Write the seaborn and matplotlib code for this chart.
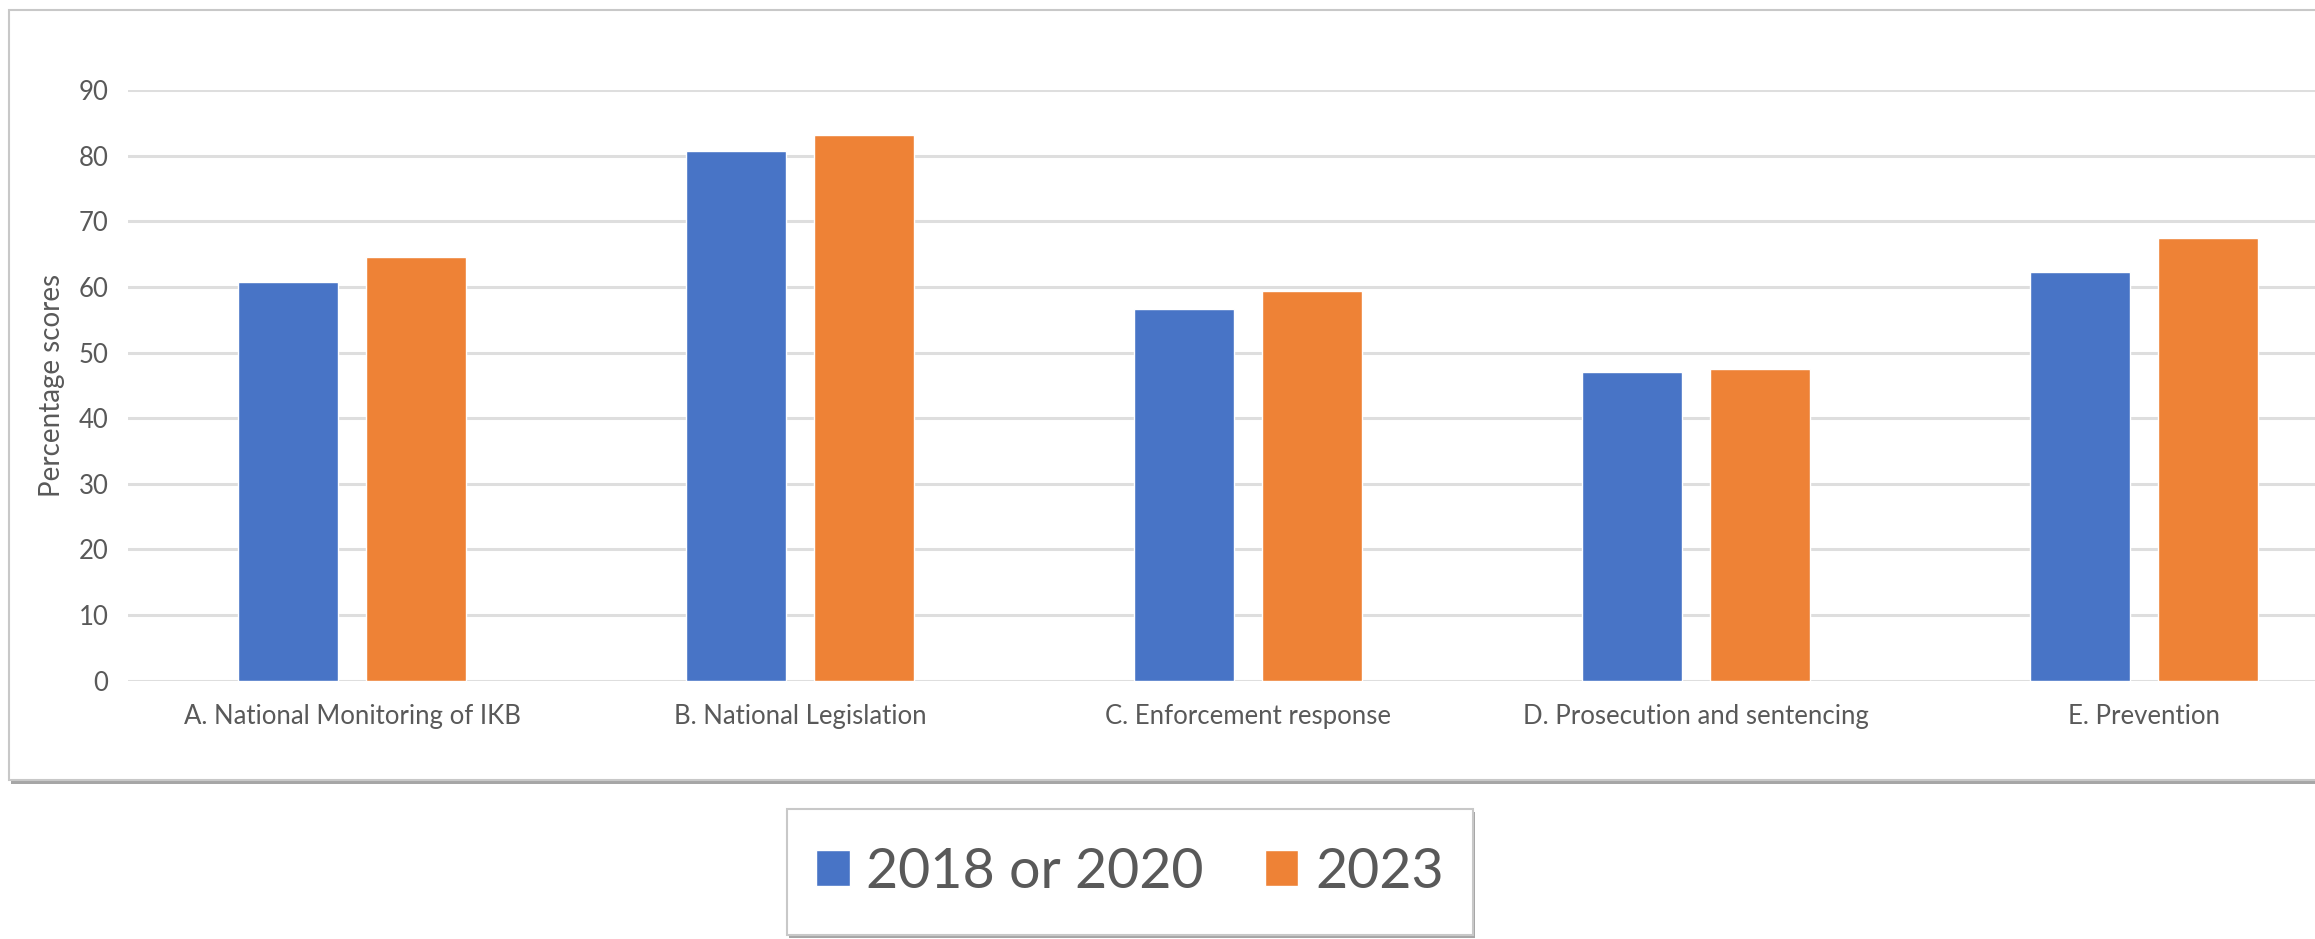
import matplotlib
matplotlib.use("Agg")
import matplotlib.pyplot as plt
import seaborn as sns
import pandas as pd
from matplotlib.patches import Rectangle

categories = ["A. National Monitoring of IKB", "B. National Legislation",
              "C. Enforcement response", "D. Prosecution and sentencing",
              "E. Prevention"]
series_names = ["2018 or 2020", "2023"]
values_early = [60.7, 80.7, 56.7, 47.1, 62.3]
values_2023 = [64.6, 83.1, 59.3, 47.5, 67.4]
y_ticks = [0, 10, 20, 30, 40, 50, 60, 70, 80, 90]
colors = ["#4874C6", "#EE8236"]

df = pd.DataFrame({
    "category": categories * 2,
    "series": [series_names[0]] * 5 + [series_names[1]] * 5,
    "value": values_early + values_2023,
})

sns.set_theme(style="white")
plt.rcParams["font.family"] = ["Lato", "DejaVu Sans"]
TXT = "#595959"

W, H = 2315, 939
fig = plt.figure(figsize=(W / 100, H / 100), dpi=100)

def px(x0, y0, x1, y1):
    return (x0 / W, 1 - y1 / H, (x1 - x0) / W, (y1 - y0) / H)

# chart frame with shadow
l, b, w, h = px(9, 10, 2340, 780)
fig.patches.append(Rectangle((l + 2 / W, b - 4 / H), w, h, transform=fig.transFigure,
                             facecolor="#A6A6A6", edgecolor="none", zorder=-3))
fig.patches.append(Rectangle((l, b), w, h, transform=fig.transFigure,
                             facecolor="white", edgecolor="#C8C8C8", lw=1.5, zorder=-2))

ax = fig.add_axes(px(128, 90, 2368, 680.7))
ax.set_facecolor("none")
sns.barplot(data=df, x="category", y="value", hue="series", order=categories,
            hue_order=series_names, palette=colors, width=0.571, gap=0.22,
            saturation=1, ax=ax, legend=True)
ax.set_xlim(-0.5, 4.5)
ax.set_ylim(0, 90)
ax.set_yticks(y_ticks)
ax.yaxis.grid(True, color="#DEDEDE", lw=2.2)
ax.set_axisbelow(True)
for s in ax.spines.values():
    s.set_visible(False)
ax.tick_params(axis="y", length=0, pad=14, labelsize=18.5, labelcolor=TXT)
ax.tick_params(axis="x", length=0, pad=17, labelsize=18.5, labelcolor=TXT)
ax.set_xlabel("")
ax.set_ylabel("Percentage scores", fontsize=20, color=TXT, labelpad=10)

handles, labels = ax.get_legend_handles_labels()
ax.get_legend().remove()

# legend box with shadow
l, b, w, h = px(787, 809, 1473, 935)
fig.patches.append(Rectangle((l + 2 / W, b - 3 / H), w, h, transform=fig.transFigure,
                             facecolor="#A6A6A6", edgecolor="none", zorder=-3))
fig.patches.append(Rectangle((l, b), w, h, transform=fig.transFigure,
                             facecolor="white", edgecolor="#C8C8C8", lw=1.5, zorder=-2))
leg = fig.legend(handles, labels, loc="center", bbox_to_anchor=((787 + 1473) / 2 / W, 1 - 872 / H),
                 ncol=2, frameon=False, fontsize=40, handlelength=0.6, handleheight=0.6,
                 handletextpad=0.3, columnspacing=1.1)
for t in leg.get_texts():
    t.set_color(TXT)

fig.savefig("out.png", dpi=100)
